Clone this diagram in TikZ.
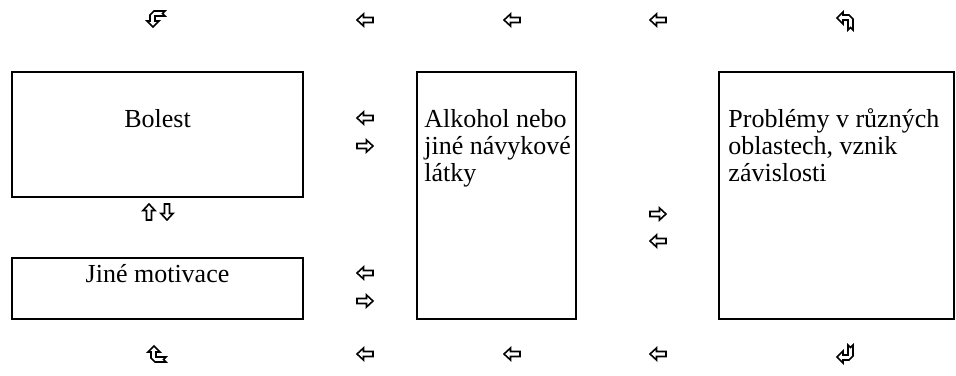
\documentclass[tikz,border=0pt]{standalone}
\usepackage{fontspec}
\setmainfont{Liberation Serif}
\usetikzlibrary{calc,positioning}

\begin{document}
\begin{tikzpicture}[x=1pt,y=-1pt]
    \tikzstyle{box}=[rectangle,draw,line width=1.5pt,inner sep=0pt] %
    \tikzstyle{txt}=[inner sep=0pt,align=left,%
    font=\fontsize{26}{27}\selectfont] %
    \tikzset{bent/.pic={\filldraw[fill=white,line width=1.6pt]
      (-8,-3) -- (-2,-9) -- (-2,-6) -- (4,-6) -- (8,-2) -- (8,9) --
      (5.5,6.5) -- (3,9) -- (3,-1) -- (-2,-1) -- (-2,3) -- cycle;}} %
    \tikzset{wide/.pic={\filldraw[fill=white,line width=1.6pt]
      (-8,0) -- (-1.5,-6) -- (-1.5,-2.5) -- (8,-2.5) -- (8,2.5) --
      (-1.5,2.5) -- (-1.5,6) -- cycle;}} %

    \path[use as bounding box] (0,0) rectangle (956,375);

    \node[box,minimum width=291pt,minimum height=125pt] (BOL) at (157.5,134.5) {};
    \node[txt,anchor=base] (BOLt) at ([yshift=-56pt]BOL.north) {Bolest};

    \node[box,minimum width=291pt,minimum height=61pt] (JIN) at (157.5,288.5) {};
    \node[txt,anchor=base] (JINt) at ([yshift=-25pt]JIN.north) {Jiné motivace};

    \node[box,minimum width=159pt,minimum height=247pt] (ALK) at (496.5,195.5) {};
    \node[txt,anchor=base west] (ALKt) at ([xshift=8pt,yshift=-110pt]ALK.north west)
      {Alkohol nebo\\jiné návykové\\látky};

    \node[box,minimum width=235pt,minimum height=247pt] (PRO) at (836.5,195.5) {};
    \node[txt,anchor=base west] (PROt) at ([xshift=10pt,yshift=-110pt]PRO.north west)
      {Problémy v různých\\oblastech, vznik\\závislosti};

    % top row
    \pic[rotate=90] (TL) at (156,19) {bent};
    \pic (T1) at (365,20) {wide};
    \pic (T2) at (512,20) {wide};
    \pic (T3) at (658,20) {wide};
    \pic (TR) at (845,21) {bent};

    % left column
    \pic (L1) at (365,118) {wide};
    \pic[rotate=180] (L2) at (365,146) {wide};
    \pic (L3) at (365,273) {wide};
    \pic[rotate=180] (L4) at (365,301) {wide};

    \pic[rotate=-90] (UP) at (149,212) {wide};
    \pic[rotate=90] (DN) at (167,212) {wide};

    \pic[rotate=180] (M1) at (658,214) {wide};
    \pic (M2) at (658,241) {wide};

    % bottom row
    \pic[yscale=-1,rotate=90] (BL) at (157,354) {bent};
    \pic (B1) at (365,354) {wide};
    \pic (B2) at (512,354) {wide};
    \pic (B3) at (658,354) {wide};
    \pic[yscale=-1] (BR) at (845,354) {bent};
\end{tikzpicture}
\end{document}
